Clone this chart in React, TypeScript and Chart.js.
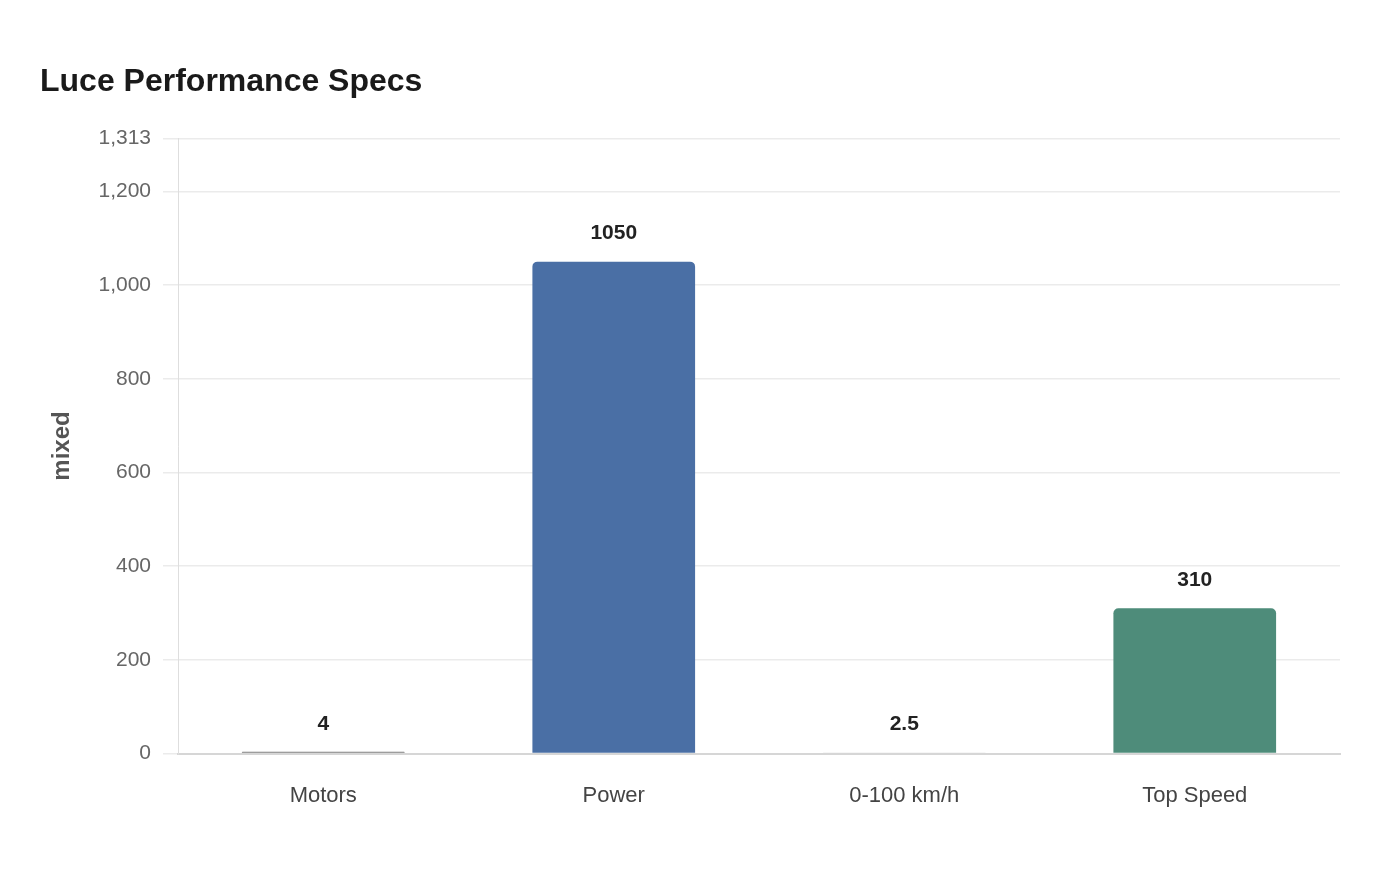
import React, { useEffect, useRef } from "react";
import { Chart, registerables } from "chart.js";

Chart.register(...registerables);

const categories = ["Motors", "Power", "0-100 km/h", "Top Speed"];
const values = [4, 1050, 2.5, 310];
const valueLabels = ["4", "1050", "2.5", "310"];
const barColors = ["#7d7d7d", "#4a6fa5", "#dcdcdc", "#4e8c7a"];
const yMax = 1313;

const FONT = "'Liberation Sans', Arial, Helvetica, sans-serif";

const valueLabelPlugin = {
  id: "valueLabels",
  afterDatasetsDraw(chart: any) {
    const { ctx } = chart;
    const meta = chart.getDatasetMeta(0);
    ctx.save();
    ctx.font = `bold 21px ${FONT}`;
    ctx.fillStyle = "#222222";
    ctx.textAlign = "center";
    ctx.textBaseline = "middle";
    meta.data.forEach((bar: any, i: number) => {
      ctx.fillText(valueLabels[i], bar.x, bar.y - 28);
    });
    ctx.restore();
  },
};

export default function App() {
  const ref = useRef<HTMLCanvasElement>(null);
  useEffect(() => {
    if (!ref.current) return;
    const chart = new Chart(ref.current, {
      type: "bar",
      data: {
        labels: categories,
        datasets: [
          {
            data: values,
            backgroundColor: barColors,
            borderWidth: 0,
            borderRadius: 5,
            borderSkipped: "start",
            barPercentage: 0.7,
            categoryPercentage: 0.8,
          },
        ],
      },
      options: {
        animation: false,
        responsive: false,
        maintainAspectRatio: false,
        layout: { padding: { top: 52, left: 40, right: 60, bottom: 42 } },
        plugins: {
          legend: { display: false },
          tooltip: { enabled: false },
          title: {
            display: true,
            text: "Luce Performance Specs",
            align: "start",
            color: "#1a1a1a",
            font: { family: FONT, size: 32, weight: "bold" },
            padding: { top: 11, bottom: 37 },
          },
        },
        scales: {
          x: {
            grid: { display: false, drawTicks: false },
            border: { display: true, color: "#d6d6d6", width: 2 },
            ticks: {
              color: "#444444",
              font: { family: FONT, size: 22 },
              padding: 29,
            },
          },
          y: {
            min: 0,
            max: yMax,
            afterFit(scale: any) {
              scale.width = 138;
            },
            ticks: {
              stepSize: 200,
              color: "#666666",
              font: { family: FONT, size: 21 },
              padding: 12,
              callback: (v: any) => Number(v).toLocaleString("en-US"),
            },
            grid: { color: "#ebebeb", tickLength: 15, lineWidth: 1.5 },
            border: { display: true, color: "#dedede", width: 1 },
            title: {
              display: true,
              text: "mixed",
              color: "#555555",
              font: { family: FONT, size: 24, weight: "bold" },
              padding: { top: 8, bottom: 0 },
            },
          },
        },
      },
      plugins: [valueLabelPlugin],
    });
    return () => chart.destroy();
  }, []);
  return (
    <div style={{ position: "absolute", left: 0, top: 0, width: 1400, height: 880, background: "#fff" }}>
      <canvas ref={ref} width={1400} height={880} style={{ width: 1400, height: 880 }} />
    </div>
  );
}
